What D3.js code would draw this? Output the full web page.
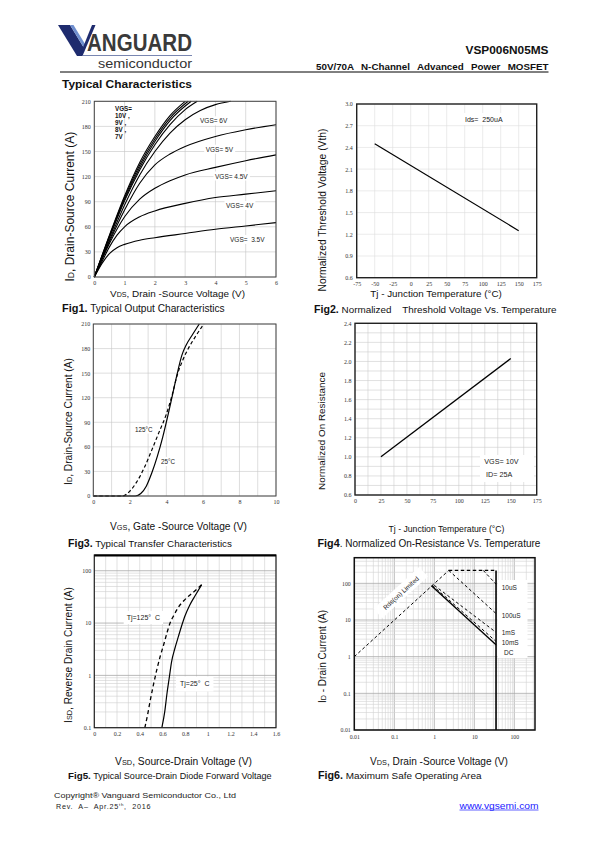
<!DOCTYPE html>
<html><head><meta charset="utf-8">
<script src="https://cdn.jsdelivr.net/npm/d3@7"></script>
<style>
body{margin:0;background:#fff}
svg{display:block}
</style></head><body>
<script>
// ================= DATA =================
// Fig1 – output characteristics (VDS [V], ID [A])
const fig1VdsTicks=[0,1,2,3,4,5,6];
const fig1IdTicks=[0,30,60,90,120,150,180,210];
const fig1Vgs10=[[0,0],[0.5,50],[1,97],[1.5,137],[2,168],[2.5,193],[3.0,210]];
const fig1Vgs9=[[0,0],[0.5,49],[1,95],[1.5,134],[2,165],[2.5,190],[3.1,210]];
const fig1Vgs8=[[0,0],[0.5,48],[1,93],[1.5,131],[2,162],[2.5,187],[3.2,210]];
const fig1Vgs7=[[0,0],[0.5,47],[1,91],[1.5,128],[2,158],[2.5,182],[3,200],[3.4,210]];
const fig1Vgs6=[[0,0],[0.5,44],[1,86],[1.5,122],[2,150],[2.5,172],[3,188],[3.5,199],[4,206],[4.5,210]];
const fig1Vgs5=[[0,0],[0.5,42],[1,80],[1.5,112],[2,134],[2.5,147],[3,156],[4,168],[5,176],[6,182]];
const fig1Vgs45=[[0,0],[0.5,40],[1,72],[1.5,93],[2,106],[2.5,115],[3,122],[4,131],[5,139],[6,146]];
const fig1Vgs4=[[0,0],[0.25,18],[0.5,36],[0.75,50],[1,60],[1.5,72],[2,79],[3,88],[4,95],[5,99],[6,103]];
const fig1Vgs35=[[0,0],[0.25,16],[0.5,28],[0.75,35],[1,39],[1.5,44],[2,47],[3,52],[4,57],[5,61],[6,65]];
const fig1CurveLabels=["VGS= 6V","VGS= 5V","VGS= 4.5V","VGS= 4V","VGS=  3.5V"];
const fig1BundleLabel=["VGS=","10V ,","9V ,","8V ,","7V"];

// Fig2 – threshold voltage vs temperature
const fig2TempTicks=[-75,-50,-25,0,25,50,75,100,125,150,175];
const fig2VthTicks=[0.6,0.9,1.2,1.5,1.8,2.1,2.4,2.7,3.0];
const fig2Line=[[-50,2.45],[150,1.25]];
const fig2Label="Ids=  250uA";

// Fig3 – transfer characteristics (VGS [V], ID [A])
const fig3VgsTicks=[0,2,4,6,8,10];
const fig3IdTicks=[0,30,60,90,120,150,180,210];
const fig3T25=[[0,0],[2.3,0],[2.6,3],[2.9,12],[3.2,28],[3.5,48],[3.8,72],[4.1,100],[4.35,125],[4.6,150],[4.85,172],[5.1,185],[5.4,196],[5.8,210]];
const fig3T125=[[0,0],[1.6,0],[2.0,6],[2.4,18],[2.8,35],[3.2,56],[3.6,78],[4.0,100],[4.3,122],[4.6,148],[4.9,166],[5.2,180],[5.6,195],[6.05,210]];

// Fig4 – normalized on-resistance vs temperature
const fig4TempTicks=[0,25,50,75,100,125,150,175];
const fig4RdsTicks=[0.6,0.8,1.0,1.2,1.4,1.6,1.8,2.0,2.2,2.4];
const fig4Line=[[25,1.0],[150,2.03]];
const fig4Labels=["VGS= 10V","ID= 25A"];

// Fig5 – source-drain diode forward voltage (VSD [V], ISD [A])
const fig5VsdTicks=[0,0.2,0.4,0.6,0.8,1,1.2,1.4,1.6];
const fig5IsdTicks=[0.1,1,10,100];
const fig5T25=[[0.595,0.1],[0.62,0.2],[0.64,0.45],[0.66,0.9],[0.68,1.8],[0.71,3.3],[0.74,5.5],[0.77,9],[0.8,14],[0.84,22],[0.89,34],[0.945,54]];
const fig5T125=[[0.445,0.1],[0.47,0.18],[0.49,0.31],[0.52,0.65],[0.55,1.27],[0.58,2.3],[0.61,3.8],[0.64,6.5],[0.667,10],[0.7,14],[0.74,20],[0.79,27],[0.84,34],[0.89,42],[0.945,54]];
const fig5Labels=["Tj=125\u00B0  C","Tj=25\u00B0  C"];

// Fig6 – safe operating area (VDS [V], ID [A])
const fig6VdsTicks=[0.01,0.1,1,10,100];
const fig6IdTicks=[0.01,0.1,1,10,100];
const fig6Rds=[[0.01,1],[2.3,225]];
const fig6Top=[[2.3,225],[35,225]];
const fig6_10us=[[16.8,225],[35,95]];
const fig6_100us=[[2.3,225],[35,15]];
const fig6_1ms=[[1.0,88],[35,4.6]];
const fig6_10ms=[[0.9,88],[35,2.6]];
const fig6_dc=[[0.85,86],[35,2.1]];
const fig6Vmax=[[35,225],[35,0.01]];
const fig6Labels=["10uS","100uS","1mS","10mS","DC"];

// ================= DRAWING =================
const SANS='"Liberation Sans", Arial, sans-serif';
const SERIF='"Liberation Serif", "Times New Roman", serif';
const svg=d3.select('body').append('svg').attr('width',595).attr('height',842)
  .attr('font-family',SANS);

function fitText(t,w){
  const cur=t.node().getComputedTextLength();
  const fs=parseFloat(t.attr('font-size'));
  t.attr('font-size',(fs*w/cur).toFixed(2));
  return t;
}
function range(a,b,s){const r=[];for(let v=a;v<=b+1e-9;v+=s)r.push(+v.toFixed(4));return r;}
function logGrid(lo,hi){const r=[];for(let e=Math.floor(Math.log10(lo));e<=Math.ceil(Math.log10(hi));e++){for(let m=1;m<10;m++){const v=m*Math.pow(10,e);if(v>=lo*0.999&&v<=hi*1.001)r.push({v,major:m===1});}}return r;}

function panel(o){
  const g=svg.append('g');
  const [xa,xb]=o.x.range(), [ya,yb]=o.y.range();
  const grid=g.append('g');
  o.xGrid.forEach(d=>{const v=d.v!==undefined?d.v:d;
    grid.append('line').attr('x1',o.x(v)).attr('x2',o.x(v)).attr('y1',ya).attr('y2',yb)
      .attr('stroke',d.major?o.majorColor:o.gridColor).attr('stroke-width',d.major?0.8:0.6);});
  o.yGrid.forEach(d=>{const v=d.v!==undefined?d.v:d;
    grid.append('line').attr('x1',xa).attr('x2',xb).attr('y1',o.y(v)).attr('y2',o.y(v))
      .attr('stroke',d.major?o.majorColor:o.gridColor).attr('stroke-width',d.major?0.8:0.6);});
  const plot=g.append('g');
  const ax=g.append('g').attr('transform',`translate(0,${ya})`)
    .call(d3.axisBottom(o.x).tickValues(o.xTicks).tickFormat(o.xFmt).tickSize(0).tickPadding(o.xPad||4));
  ax.select('.domain').remove();
  const ay=g.append('g').attr('transform',`translate(${xa},0)`)
    .call(d3.axisLeft(o.y).tickValues(o.yTicks).tickFormat(o.yFmt).tickSize(0).tickPadding(o.yPad||3));
  ay.select('.domain').remove();
  g.selectAll('.tick text').attr('font-family',SERIF).attr('font-size',o.tickFs||6).attr('fill','#333');
  const labels=g.append('g');
  g.append('rect').attr('x',xa).attr('y',yb).attr('width',xb-xa).attr('height',ya-yb)
    .attr('fill','none').attr('stroke',o.frame||'#333').attr('stroke-width',o.frameW||1);
  return {g,plot,labels};
}
function curve(p,x,y,data,opt){
  opt=opt||{};
  p.append('path').datum(data)
    .attr('d',d3.line().x(d=>x(d[0])).y(d=>y(d[1])).curve(opt.linear?d3.curveLinear:d3.curveMonotoneX))
    .attr('fill','none').attr('stroke','#000').attr('stroke-width',opt.w||1.1)
    .attr('stroke-dasharray',opt.dash||null);
}
function boxLabel(g,x,y,txt,fs,opt){
  opt=opt||{};
  const t=g.append('text').attr('x',x).attr('y',y).attr('font-size',fs)
    .attr('font-weight',opt.bold?'bold':null).attr('fill','#222')
    .style('white-space','pre').text(txt);
  const b=t.node().getBBox();
  const pad=opt.pad===undefined?2:opt.pad;
  g.insert('rect',()=>t.node()).attr('x',b.x-pad).attr('y',b.y-pad+0.5)
    .attr('width',b.width+2*pad).attr('height',b.height+2*pad-1).attr('fill','#fff');
  return t;
}
function xTitle(cx,y,parts,w){
  const t=svg.append('text').attr('x',cx).attr('y',y).attr('text-anchor','middle')
    .attr('font-size',9.5).attr('fill','#111');
  parts.forEach(p=>t.append('tspan').style('font-size',p[1]?'0.72em':null).text(p[0]));
  fitText(t,w);
}
function yTitle(cx,cy,parts,h){
  const t=svg.append('text').attr('transform',`translate(${cx+3.5},${cy}) rotate(-90)`)
    .attr('text-anchor','middle').attr('font-size',9.5).attr('fill','#111');
  parts.forEach(p=>t.append('tspan').style('font-size',p[1]?'0.72em':null).text(p[0]));
  fitText(t,h);
}
function caption(x,y,bold,rest,w){
  const t=svg.append('text').attr('x',x).attr('y',y).attr('font-size',9).attr('fill','#111')
    .style('white-space','pre');
  t.append('tspan').attr('font-weight','bold').style('font-size','1.08em').text(bold);
  t.append('tspan').text(rest);
  fitText(t,w);
}

// ---------- Header ----------
const logo=svg.append('g');
logo.append('polygon').attr('points','58,25 70,25 84,48 80,56 77,56').attr('fill','#1e2b6e');
logo.append('polygon').attr('points','70,25 73.5,25 85,44 84,48').attr('fill','#6f8fcf');
logo.append('polygon').attr('points','79.5,56 92,25 95.5,25 82.5,56').attr('fill','#1e2b6e');
logo.append('text').attr('x',87).attr('y',51).attr('font-size',23.5).attr('font-weight','bold')
  .attr('fill','#3a3a3a').attr('textLength',105).attr('lengthAdjust','spacingAndGlyphs').text('ANGUARD');
logo.append('line').attr('x1',83).attr('x2',192).attr('y1',55.5).attr('y2',55.5).attr('stroke','#6a78a8').attr('stroke-width',0.9);
logo.append('text').attr('x',98).attr('y',68).attr('font-size',12.5).attr('fill','#333')
  .attr('textLength',94).attr('lengthAdjust','spacingAndGlyphs').text('semiconductor');
svg.append('text').attr('x',548.5).attr('y',53.5).attr('text-anchor','end').attr('font-size',11)
  .attr('font-weight','bold').attr('fill','#111').attr('textLength',83).attr('lengthAdjust','spacingAndGlyphs').text('VSP006N05MS');
{
  const sub=svg.append('text').attr('x',548.5).attr('y',69.5).attr('text-anchor','end').attr('font-size',9.8)
    .attr('font-weight','bold').attr('fill','#111').text('50V/70A N-Channel Advanced Power MOSFET');
  const w=sub.node().getComputedTextLength();
  sub.attr('word-spacing',Math.max(0,(237-w)/5).toFixed(2));
}
svg.append('line').attr('x1',60).attr('x2',548.5).attr('y1',72).attr('y2',72).attr('stroke','#000').attr('stroke-width',1);
svg.append('text').attr('x',62).attr('y',87.5).attr('font-size',11.5).attr('font-weight','bold')
  .attr('fill','#111').attr('textLength',130).attr('lengthAdjust','spacingAndGlyphs').text('Typical Characteristics');

// ---------- Fig1 ----------
{
  const x=d3.scaleLinear().domain([0,6]).range([94.3,276]);
  const y=d3.scaleLinear().domain([0,210]).range([277,101.3]);
  const P=panel({x,y,xGrid:fig1VdsTicks,yGrid:fig1IdTicks,gridColor:'#c4c4c4',
    xTicks:fig1VdsTicks,yTicks:fig1IdTicks,xFmt:d=>d,yFmt:d=>d,xPad:4,yPad:3.5,frame:'#444',frameW:1});
  [fig1Vgs35,fig1Vgs4,fig1Vgs45,fig1Vgs5,fig1Vgs6,fig1Vgs7,fig1Vgs8,fig1Vgs9,fig1Vgs10]
    .forEach(c=>curve(P.plot,x,y,c,{w:1.1}));
  const pos=[[200,123.3],[205.7,151.7],[215,178.5],[226,208],[230,242]];
  fig1CurveLabels.forEach((t,i)=>boxLabel(P.labels,pos[i][0],pos[i][1],t,6.5,{pad:1.5}));
  fig1BundleLabel.forEach((t,i)=>P.labels.append('text').attr('x',115).attr('y',111+i*7)
    .attr('font-size',6.3).attr('font-weight','bold').attr('fill','#111').style('white-space','pre').text(t));
}
yTitle(70,206.7,[['I'],['D',1],[', Drain-Source Current (A)']],150);
xTitle(177.5,297,[['V'],['DS',1],[', Drain -Source Voltage (V)']],135);
caption(62,312,'Fig1.',' Typical Output Characteristics',163);

// ---------- Fig2 ----------
{
  const x=d3.scaleLinear().domain([-75,175]).range([356.7,536.7]);
  const y=d3.scaleLinear().domain([0.6,3.0]).range([277.7,104]);
  const P=panel({x,y,xGrid:fig2TempTicks,yGrid:fig2VthTicks,gridColor:'#dedede',
    xTicks:fig2TempTicks,yTicks:fig2VthTicks,xFmt:d=>d,yFmt:d3.format('.1f'),xPad:4.5,yPad:4,frame:'#222',frameW:1.4});
  curve(P.plot,x,y,fig2Line,{linear:true,w:1.2});
  boxLabel(P.labels,465,121.5,fig2Label,7,{pad:3});
}
yTitle(322,210,[['Normalized Threshold Voltage (Vth)']],163);
xTitle(436,297,[['Tj - Junction Temperature (\u00B0C)']],131.7);
caption(314,312.5,'Fig2.',' Normalized    Threshold Voltage Vs. Temperature',243);

// ---------- Fig3 ----------
{
  const x=d3.scaleLinear().domain([0,10]).range([93.3,276]);
  const y=d3.scaleLinear().domain([0,210]).range([496,324]);
  const P=panel({x,y,xGrid:range(0,10,1),yGrid:fig3IdTicks,gridColor:'#c8c8c8',
    xTicks:fig3VgsTicks,yTicks:fig3IdTicks,xFmt:d=>d,yFmt:d=>d,xPad:4,yPad:3,frame:'#444',frameW:1});
  curve(P.plot,x,y,fig3T25,{w:1.2});
  curve(P.plot,x,y,fig3T125,{w:1.2,dash:'3.5,2.5'});
  boxLabel(P.labels,135,431.5,'125\u00B0C',6.3,{pad:1.5});
  boxLabel(P.labels,161,464,'25\u00B0C',6.3,{pad:1.5});
}
yTitle(68,421.5,[['I'],['D',1],[', Drain-Source Current (A)']],127);
xTitle(178.5,530,[['V'],['GS',1],[', Gate -Source Voltage (V)']],137);
caption(68,547,'Fig3.',' Typical Transfer Characteristics',164);

// ---------- Fig4 ----------
{
  const x=d3.scaleLinear().domain([0,175]).range([355,536.7]);
  const y=d3.scaleLinear().domain([0.6,2.4]).range([495,323.3]);
  const P=panel({x,y,xGrid:range(0,175,12.5),yGrid:range(0.6,2.4,0.1),gridColor:'#cccccc',
    xTicks:fig4TempTicks,yTicks:fig4RdsTicks,xFmt:d=>d,yFmt:d3.format('.1f'),xPad:4,yPad:3.5,frame:'#222',frameW:1.4});
  curve(P.plot,x,y,fig4Line,{linear:true,w:1.3});
  P.labels.append('rect').attr('x',480).attr('y',455).attr('width',54).attr('height',27).attr('fill','#fff');
  P.labels.append('text').attr('x',484.3).attr('y',463.8).attr('font-size',7.2).attr('fill','#222').text(fig4Labels[0]);
  P.labels.append('text').attr('x',486).attr('y',477.3).attr('font-size',7.2).attr('fill','#222').text(fig4Labels[1]);
}
yTitle(321,431,[['Normalized On Resistance']],118);
xTitle(446.5,532,[['Tj - Junction Temperature (\u00B0C)']],116);
caption(317.5,547,'Fig4','. Normalized On-Resistance Vs. Temperature',223);

// ---------- Fig5 ----------
{
  const x=d3.scaleLinear().domain([0,1.6]).range([94.3,276]);
  const y=d3.scaleLog().domain([0.1,200]).range([727.7,555]);
  const P=panel({x,y,xGrid:range(0,1.6,0.1),yGrid:logGrid(0.1,200),gridColor:'#cfcfcf',majorColor:'#a8a8a8',
    xTicks:fig5VsdTicks,yTicks:fig5IsdTicks,xFmt:d=>d,yFmt:d=>d,xPad:4.5,yPad:3,frame:'#222',frameW:1.2});
  P.g.append('line').attr('x1',94.3).attr('x2',276).attr('y1',555.5).attr('y2',555.5).attr('stroke','#000').attr('stroke-width',2);
  curve(P.plot,x,y,fig5T25,{w:1.2});
  curve(P.plot,x,y,fig5T125,{w:1.3,dash:'4,3'});
  boxLabel(P.labels,126.7,619.5,fig5Labels[0],7,{pad:3});
  boxLabel(P.labels,180,686,fig5Labels[1],7,{pad:4});
}
yTitle(68,655,[['I'],['SD',1],[', Reverse Drain Current (A)']],136);
xTitle(183.5,765,[['V'],['SD',1],[', Source-Drain Voltage (V)']],137);
caption(68,779,'Fig5.',' Typical Source-Drain Diode Forward Voltage',204);

// ---------- Fig6 ----------
{
  const x=d3.scaleLog().domain([0.01,330]).range([354.3,535]);
  const y=d3.scaleLog().domain([0.01,500]).range([730,557.7]);
  const P=panel({x,y,xGrid:logGrid(0.01,330),yGrid:logGrid(0.01,500),gridColor:'#d4d4d4',majorColor:'#a8a8a8',
    xTicks:fig6VdsTicks,yTicks:fig6IdTicks,xFmt:d=>d,yFmt:d=>d,xPad:5,yPad:3.6,tickFs:5.8,frame:'#111',frameW:1.5});
  P.plot.append('rect').attr('x',497.5).attr('y',580).attr('width',30).attr('height',78).attr('fill','#fff');
  curve(P.plot,x,y,fig6Rds,{linear:true,w:1,dash:'3,2.5'});
  curve(P.plot,x,y,fig6Top,{linear:true,w:1.1,dash:'3.5,2.5'});
  curve(P.plot,x,y,fig6_10us,{linear:true,w:1,dash:'3,2.5'});
  curve(P.plot,x,y,fig6_100us,{linear:true,w:1,dash:'3,2.5'});
  curve(P.plot,x,y,fig6_1ms,{linear:true,w:1,dash:'3,2.5'});
  curve(P.plot,x,y,fig6_10ms,{linear:true,w:1,dash:'3,2.5'});
  curve(P.plot,x,y,fig6_dc,{linear:true,w:1.4});
  curve(P.plot,x,y,fig6Vmax,{linear:true,w:1.6});
  const lp=[[501.7,590],[501.7,617.5],[501.7,635],[501.7,645],[504,654.5]];
  fig6Labels.forEach((t,i)=>P.labels.append('text').attr('x',lp[i][0]).attr('y',lp[i][1])
    .attr('font-size',6.5).attr('fill','#222').text(t));
  const rg=P.labels.append('g').attr('transform','translate(401,593) rotate(-42.5)');
  rg.append('rect').attr('x',-31).attr('y',-7).attr('width',62).attr('height',13).attr('fill','#fff');
  rg.append('text').attr('x',0).attr('y',2.3).attr('text-anchor','middle').attr('font-size',6.5)
    .attr('fill','#222').text('Rds(on) Limited');
}
yTitle(322,656.5,[['I'],['D',1],[' - Drain Current (A)']],93);
xTitle(439,765,[['V'],['DS',1],[', Drain -Source Voltage (V)']],138);
caption(318,779,'Fig6.',' Maximum Safe Operating Area',163.7);

// ---------- Footer ----------
svg.append('text').attr('x',54).attr('y',797.5).attr('font-size',7.2).attr('fill','#222')
  .attr('textLength',182).attr('lengthAdjust','spacingAndGlyphs').text('Copyright\u00AE Vanguard Semiconductor Co., Ltd');
const rev=svg.append('text').attr('x',56).attr('y',808.7).attr('font-size',7.2).attr('fill','#222')
  .attr('letter-spacing',0.75).style('white-space','pre');
rev.append('tspan').text('Rev.  A\u2013  Apr.25');
rev.append('tspan').attr('dy',-3).style('font-size','0.6em').text('th');
rev.append('tspan').attr('dy',3).text(',  2016');
svg.append('text').attr('x',459.5).attr('y',808.5).attr('font-size',9).attr('fill','#1a1aff')
  .attr('textLength',79).attr('lengthAdjust','spacingAndGlyphs').text('www.vgsemi.com');
svg.append('line').attr('x1',459.5).attr('x2',538.5).attr('y1',810).attr('y2',810).attr('stroke','#1a1aff').attr('stroke-width',0.7);
</script>
</body></html>
